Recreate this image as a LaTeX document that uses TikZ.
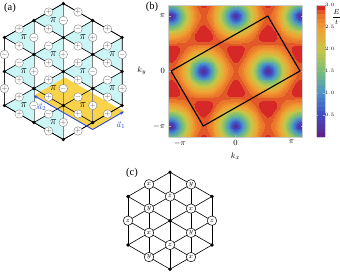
\documentclass[tikz,border=0pt]{standalone}
\usepackage{amsmath}
\usepackage{fontspec}
\setmainfont{Liberation Serif}
\usepackage{pgfplots}
\pgfplotsset{compat=1.18}
\usetikzlibrary{arrows.meta, calc}

\definecolor{cellyellow}{RGB}{249,211,74}
\definecolor{fluxcyan}{RGB}{204,246,246}
\definecolor{vecblue}{RGB}{38,72,232}

\pgfplotsset{
    colormap={bandmap}{rgb255(0cm)=(100,35,140); rgb255(1cm)=(62,78,200); rgb255(2cm)=(75,150,200); rgb255(3cm)=(120,190,120); rgb255(4cm)=(200,200,70); rgb255(5cm)=(240,160,50); rgb255(5.7cm)=(232,110,40); rgb255(6cm)=(215,40,40)}
}

\tikzset{
    site/.style={circle, fill=black, inner sep=0pt, minimum size=3.6pt},
    bond/.style={black, line width=0.6pt},
    vbond/.style={gray, line width=0.6pt},
    sign/.style={circle, draw=gray, fill=white, line width=0.4pt, inner sep=0pt, minimum size=8.5pt, text=gray!70!black, font=\fontsize{7}{7}\selectfont},
    spin/.style={circle, draw=black, fill=white, line width=0.5pt, inner sep=0pt, minimum size=9.5pt, font=\fontsize{7.5}{8}\selectfont},
    flux/.style={font=\fontsize{11}{11}\selectfont, inner sep=0pt},
    vec/.style={-{Stealth[length=4pt, width=3.5pt]}, line width=0.9pt, vecblue},
    panel/.style={font=\fontsize{10.5}{12}\selectfont, inner sep=0pt}
}

\begin{document}
\begin{tikzpicture}[x=1pt, y=1pt]
    \useasboundingbox (0,0) rectangle (340,274);

    % (a) sign pattern, site (i,j) = (m+2,n+2)
    \begin{scope}[shift={(63.3,202.5)}]
        \foreach \i in {0,...,4}
            \foreach \j in {0,...,4} {
                \pgfmathtruncatemacro\s{\i+\j}
                \ifnum\s>1 \ifnum\s<7
                    \coordinate (a\i\j) at ({(\i-2)*29.44},{(\i-2)*17+(\j-2)*34});
                \fi\fi
            }
        \foreach \i in {0,...,3}
            \foreach \j in {1,...,4} {
                \pgfmathtruncatemacro\s{\i+\j}
                \pgfmathtruncatemacro\ii{\i+1}
                \pgfmathtruncatemacro\jj{\j-1}
                \ifnum\s>1 \ifnum\s<6
                    \fill[fluxcyan] (a\i\j) -- (a\ii\j) -- (a\ii\jj) -- cycle;
                \fi\fi
            }
        \coordinate (o) at (29.4,-58);
        \coordinate (a1tip) at ($(o)+(31.2,18)$);
        \coordinate (a2tip) at ($(o)+(-58.9,34)$);
        \fill[cellyellow] (o) -- (a1tip) -- ($(a1tip)+(a2tip)-(o)$) -- (a2tip) -- cycle;
        \foreach \i in {0,...,4}
            \foreach \j in {0,...,4} {
                \pgfmathtruncatemacro\s{\i+\j}
                \pgfmathtruncatemacro\ii{\i+1}
                \pgfmathtruncatemacro\jj{\j+1}
                \pgfmathtruncatemacro\ik{\i-1}
                \ifnum\s>1 \ifnum\s<7
                    \ifnum\j<4 \ifnum\s<6 \draw[vbond] (a\i\j) -- (a\i\jj); \fi\fi
                    \ifnum\i<4 \ifnum\s<6 \draw[bond] (a\i\j) -- (a\ii\j); \fi\fi
                    \ifnum\i>0 \ifnum\j<4 \draw[bond] (a\i\j) -- (a\ik\jj); \fi\fi
                \fi\fi
            }
        \draw[bond] (a20) -- (a40) -- (a42) -- (a24) -- (a04) -- (a02) -- cycle;
        \draw[vec] (o) -- (a1tip);
        \draw[vec] (o) -- (a2tip);
        \node[text=vecblue, font=\footnotesize] (a1lbl) at (57.7,-53.5) {$\vec{a}_1$};
        \node[text=vecblue, font=\footnotesize] (a2lbl) at (-21.3,-35.5) {$\vec{a}_2$};
        \foreach \i in {0,...,4}
            \foreach \j in {0,...,4} {
                \pgfmathtruncatemacro\s{\i+\j}
                \pgfmathtruncatemacro\ii{\i+1}
                \pgfmathtruncatemacro\jj{\j+1}
                \pgfmathtruncatemacro\ik{\i-1}
                \ifnum\s>1 \ifnum\s<7
                    \node[site] (d\i\j) at (a\i\j) {};
                    \ifnum\j<4 \ifnum\s<6 \node[sign] (v\i\j) at ($(a\i\j)!.5!(a\i\jj)$) {\ifodd\j$-$\else$+$\fi}; \fi\fi
                    \ifnum\i<4 \ifnum\s<6 \node[sign] (u\i\j) at ($(a\i\j)!.5!(a\ii\j)$) {\ifodd\j$-$\else$+$\fi}; \fi\fi
                    \ifnum\i>0 \ifnum\j<4 \node[sign] (w\i\j) at ($(a\i\j)!.5!(a\ik\jj)$) {$+$}; \fi\fi
                \fi\fi
            }
        \foreach \i in {0,...,3}
            \foreach \j in {1,...,4} {
                \pgfmathtruncatemacro\s{\i+\j}
                \pgfmathtruncatemacro\ii{\i+1}
                \pgfmathtruncatemacro\jj{\j-1}
                \ifnum\s>1 \ifnum\s<6
                    \node[flux] (p\i\j) at (barycentric cs:a\i\j=1,a\ii\j=1,a\ii\jj=1) {$\pi$};
                \fi\fi
            }
    \end{scope}
    \node[panel] (la) at (10,265.7) {(a)};

    % (b) spectrum
    \begin{axis}[
        at={(168.5pt,137pt)}, anchor=south west,
        scale only axis, width=134pt, height=132pt,
        xmin=-3.77, xmax=3.77, ymin=-3.77, ymax=3.77,
        view={0}{90}, trig format plots=rad, axis on top,
        xtick={-3.14159,0,3.14159}, xticklabels={$-\pi$,$0$,$\pi$},
        ytick={-3.14159,0,3.14159}, yticklabels={$-\pi$,$0$,$\pi$},
        tick label style={font=\footnotesize},
        xlabel={$k_x$}, ylabel={$k_y$}, ylabel style={rotate=-90},
        label style={font=\footnotesize},
        axis line style={gray!40}, tick style={gray!60}, major tick length=2pt,
        colormap name=bandmap, point meta min=0, point meta max=3,
        colorbar,
        colorbar style={
            at={(parent axis.north east)}, anchor=north west, xshift=5.5pt,
            width=8.4pt, ytick={0.5,1,...,3},
            yticklabel style={font=\fontsize{4.5}{5}\selectfont, inner sep=0.5pt, xshift=-0.5pt, /pgf/number format/.cd, fixed, fixed zerofill, precision=1},
            major tick length=1.5pt, axis line style={gray!40}
        }
    ]
        \addplot3[contour filled={number=30}, samples=71, domain=-3.77:3.77, y domain=-3.77:3.77]
            {2*sqrt(cos(0.8660254*x+0.5*y)^2 + sin(y)^2 + cos(0.5*y-0.8660254*x)^2)};
        \draw[line width=1.1pt] (axis cs:-3.6276,0) -- (axis cs:1.8138,3.1416) -- (axis cs:3.6276,0) -- (axis cs:-1.8138,-3.1416) -- cycle;
    \end{axis}
    \node[panel] (lb) at (152,266.7) {(b)};
    \node[font=\scriptsize, inner sep=0pt] (eovert) at (336.6,257) {$\dfrac{E}{t}$};

    % (c) sublattice labels
    \begin{scope}[shift={(170,53.3)}]
        \foreach \i in {0,...,4}
            \foreach \j in {0,...,4} {
                \pgfmathtruncatemacro\s{\i+\j}
                \ifnum\s>1 \ifnum\s<7
                    \coordinate (c\i\j) at ({(\i-2)*21},{(\i-2)*12.125+(\j-2)*24.25});
                \fi\fi
            }
        \foreach \i in {0,...,4}
            \foreach \j in {0,...,4} {
                \pgfmathtruncatemacro\s{\i+\j}
                \pgfmathtruncatemacro\ii{\i+1}
                \pgfmathtruncatemacro\jj{\j+1}
                \pgfmathtruncatemacro\ik{\i-1}
                \ifnum\s>1 \ifnum\s<7
                    \ifnum\j<4 \ifnum\s<6 \draw[bond] (c\i\j) -- (c\i\jj); \fi\fi
                    \ifnum\i<4 \ifnum\s<6 \draw[bond] (c\i\j) -- (c\ii\j); \fi\fi
                    \ifnum\i>0 \ifnum\j<4 \draw[bond] (c\i\j) -- (c\ik\jj); \fi\fi
                \fi\fi
            }
        \foreach \i in {0,...,4}
            \foreach \j in {0,...,4} {
                \pgfmathtruncatemacro\s{\i+\j}
                \ifnum\s>1 \ifnum\s<7
                    \ifodd\i
                        \ifodd\j \node[spin] (s\i\j) at (c\i\j) {$y$};
                        \else \node[spin] (s\i\j) at (c\i\j) {$x$}; \fi
                    \else
                        \ifodd\j \node[spin] (s\i\j) at (c\i\j) {$z$};
                        \else \node[site] (s\i\j) at (c\i\j) {}; \fi
                    \fi
                \fi\fi
            }
    \end{scope}
    \node[panel] (lc) at (132,100.7) {(c)};
\end{tikzpicture}
\end{document}
